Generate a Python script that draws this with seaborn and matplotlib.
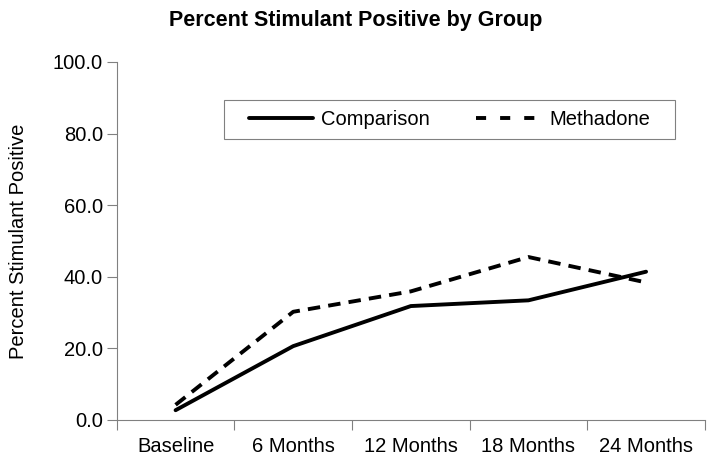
import pandas as pd
import matplotlib.pyplot as plt
import matplotlib.patches as mpatches
import seaborn as sns

groups = ['Baseline', '6 Months', '12 Months', '18 Months', '24 Months']
comparison = [2.7, 20.6, 31.8, 33.4, 41.4]
methadone = [4.2, 30.2, 35.9, 45.5, 38.4]
yticks = [0, 20, 40, 60, 80, 100]

df = pd.DataFrame({
    'Time': list(range(len(groups))) * 2,
    'Percent': comparison + methadone,
    'Group': ['Comparison'] * len(groups) + ['Methadone'] * len(groups),
})

sns.set_style('white')
plt.rcParams['font.family'] = ['Liberation Sans', 'DejaVu Sans']
plt.rcParams['text.color'] = 'black'
plt.rcParams['xtick.color'] = '#808080'
plt.rcParams['ytick.color'] = '#808080'
plt.rcParams['xtick.labelcolor'] = 'black'
plt.rcParams['ytick.labelcolor'] = 'black'
plt.rcParams['axes.labelcolor'] = 'black'

fig = plt.figure(figsize=(7.12, 4.66), dpi=100)
ax = fig.add_axes([0.164, 0.099, 0.826, 0.768])

sns.lineplot(data=df, x='Time', y='Percent', style='Group',
             dashes={'Comparison': '', 'Methadone': (3.2, 2.1)},
             color='black', linewidth=2.8, ax=ax, legend=False)

# legend handles drawn like the original (Excel-style short dashes)
ax.plot([], [], color='black', lw=2.8, label='Comparison')
ax.plot([], [], color='black', lw=2.8, ls=(0, (2.6, 3.6)), label='Methadone')

ax.set_xlim(-0.5, 4.5)
ax.set_ylim(0, 100)
ax.set_yticks(yticks)
ax.set_yticklabels([f'{v:.1f}' for v in yticks], fontsize=14.5)
ax.set_xticks(range(len(groups)))
ax.set_xticklabels(groups, fontsize=14.5)
ax.set_xticks([i - 0.5 for i in range(len(groups) + 1)], minor=True)
ax.tick_params(axis='x', which='major', bottom=False, length=0, pad=12)
ax.tick_params(axis='x', which='minor', bottom=True, length=7, width=0.8, direction='out')
ax.tick_params(axis='y', left=True, length=7, width=0.8, direction='out', pad=3)
ax.set_xlabel('')
ax.set_ylabel('Percent Stimulant Positive', fontsize=14.5, labelpad=18)

for side in ['top', 'right']:
    ax.spines[side].set_visible(False)
for side in ['left', 'bottom']:
    ax.spines[side].set_color('#808080')
    ax.spines[side].set_linewidth(0.8)

fig.text(0.5, 0.957, 'Percent Stimulant Positive by Group', ha='center', va='center',
         fontsize=15.5, fontweight='bold')

# legend box is drawn separately so the entries can sit inset like in Excel
box = (0.182, 0.785, 0.767, 0.109)
ax.add_patch(mpatches.Rectangle(box[:2], box[2], box[3], transform=ax.transAxes,
                                fill=False, edgecolor='#808080', linewidth=0.8, zorder=5))
ax.legend(loc='center', bbox_to_anchor=(box[0] + box[2] / 2, box[1] + box[3] / 2),
          ncol=2, frameon=False, fontsize=14.5, handlelength=3.2,
          handletextpad=0.4, columnspacing=2.3, borderpad=0, borderaxespad=0)

fig.savefig('out.png', dpi=100)
